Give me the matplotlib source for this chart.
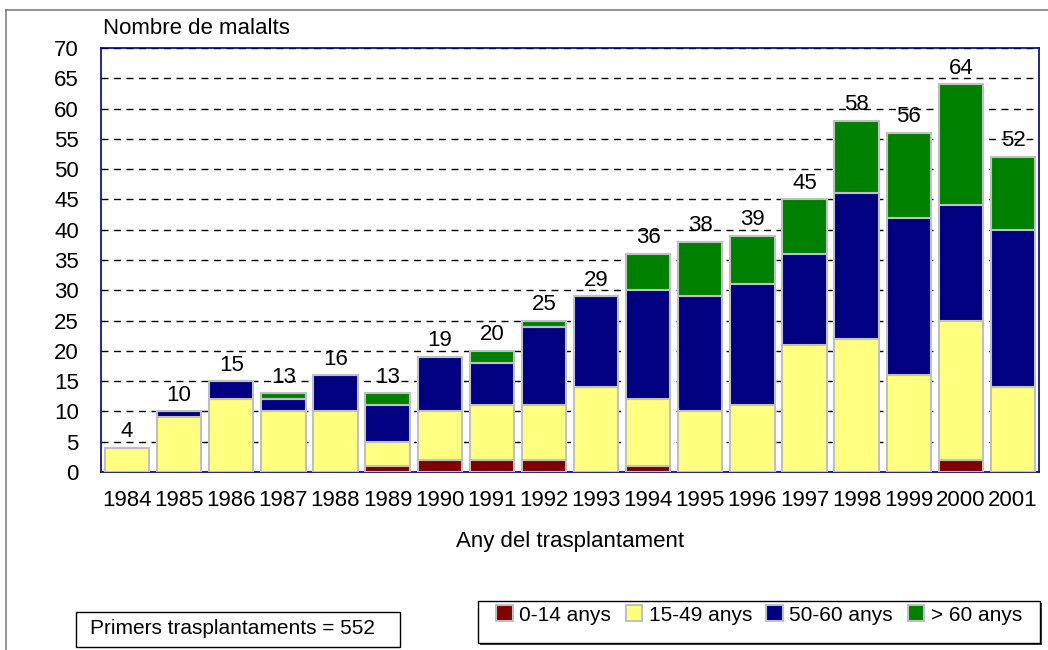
"""Stacked bar chart: kidney transplant patients per year by age group."""

import matplotlib

matplotlib.use("Agg")
import matplotlib.pyplot as plt
import numpy as np
from matplotlib.patches import Rectangle
from matplotlib.lines import Line2D

plt.rcParams["font.family"] = ["Liberation Sans", "DejaVu Sans"]

years = [str(y) for y in range(1984, 2002)]
age_0_14 = [0, 0, 0, 0, 0, 1, 2, 2, 2, 0, 1, 0, 0, 0, 0, 0, 2, 0]
age_15_49 = [4, 9, 12, 10, 10, 4, 8, 9, 9, 14, 11, 10, 11, 21, 22, 16, 23, 14]
age_50_60 = [0, 1, 3, 2, 6, 6, 9, 7, 13, 15, 18, 19, 20, 15, 24, 26, 19, 26]
age_60_plus = [0, 0, 0, 1, 0, 2, 0, 2, 1, 0, 6, 9, 8, 9, 12, 14, 20, 12]

series_labels = ["0-14 anys", "15-49 anys", "50-60 anys", "> 60 anys"]
series_colors = ["#800000", "#FFFF80", "#000080", "#008000"]

FS = 16
W, H = 1048, 650
fig = plt.figure(figsize=(W / 100, H / 100), dpi=100)

# outer chart frame (only top and left edges fall inside the picture)
fig.add_artist(Line2D([6 / W, 6 / W], [0, 1 - 10 / H], transform=fig.transFigure, color="#808080", lw=1.2))
fig.add_artist(Line2D([6 / W, 1], [1 - 10 / H, 1 - 10 / H], transform=fig.transFigure, color="#808080", lw=1.2))

ax = fig.add_axes([101 / W, 1 - 472 / H, (1039 - 101) / W, (472 - 48) / H])

x = np.arange(len(years))
bottom = np.zeros(len(years))
stack = [age_0_14, age_15_49, age_50_60, age_60_plus]
for values, label, color in zip(stack, series_labels, series_colors):
    vals = np.array(values, dtype=float)
    ax.bar(x, vals, bottom=bottom, width=0.85, color=color, edgecolor="#C0C0C0",
           linewidth=1.5, label=label, zorder=3)
    bottom += vals

for xi, total in zip(x, bottom):
    ax.annotate(f"{int(total)}", (xi, total), xytext=(0, 4), textcoords="offset points",
                ha="center", va="bottom", fontsize=FS, zorder=4)

ax.set_xlim(-0.5, len(years) - 0.5)
ax.set_ylim(0, 70)
ax.set_yticks(range(0, 75, 5))
ax.set_xticks(x)
ax.set_xticklabels(years)
ax.tick_params(axis="both", length=0, labelsize=FS)
ax.tick_params(axis="y", pad=16)
ax.tick_params(axis="x", pad=13)
ax.yaxis.grid(True, color="black", linestyle=(0, (5, 4)), linewidth=1.0, zorder=0)
ax.set_axisbelow(True)
for spine in ax.spines.values():
    spine.set_color("#000080")
    spine.set_linewidth(1.2)

ax.set_xlabel("Any del trasplantament", fontsize=FS, labelpad=14)
fig.text(103 / W, 1 - 28 / H, "Nombre de malalts", fontsize=FS, ha="left", va="center")

# total box
fig.add_artist(Rectangle((76 / W, 1 - 647 / H), (400 - 76) / W, (647 - 612) / H,
                         transform=fig.transFigure, facecolor="white", edgecolor="black", lw=1.0))
fig.text(232 / W, 1 - 629 / H, "Primers trasplantaments = 552", fontsize=15, ha="center", va="center")

# legend box with shadow
fig.add_artist(Rectangle((480 / W, 1 - 645 / H), (1042 - 480) / W, (645 - 603) / H,
                         transform=fig.transFigure, facecolor="#404040", edgecolor="none"))
fig.add_artist(Rectangle((478 / W, 1 - 643 / H), (1040 - 478) / W, (643 - 601) / H,
                         transform=fig.transFigure, facecolor="white", edgecolor="black", lw=1.0))
handles, labels = ax.get_legend_handles_labels()
leg = fig.legend(handles, labels, loc="center", bbox_to_anchor=(759 / W, 1 - 615 / H), ncol=4,
                 frameon=False, fontsize=15, handlelength=0.8, handleheight=0.8,
                 handletextpad=0.3, columnspacing=0.7, borderaxespad=0)

fig.savefig("out.png", dpi=100)
